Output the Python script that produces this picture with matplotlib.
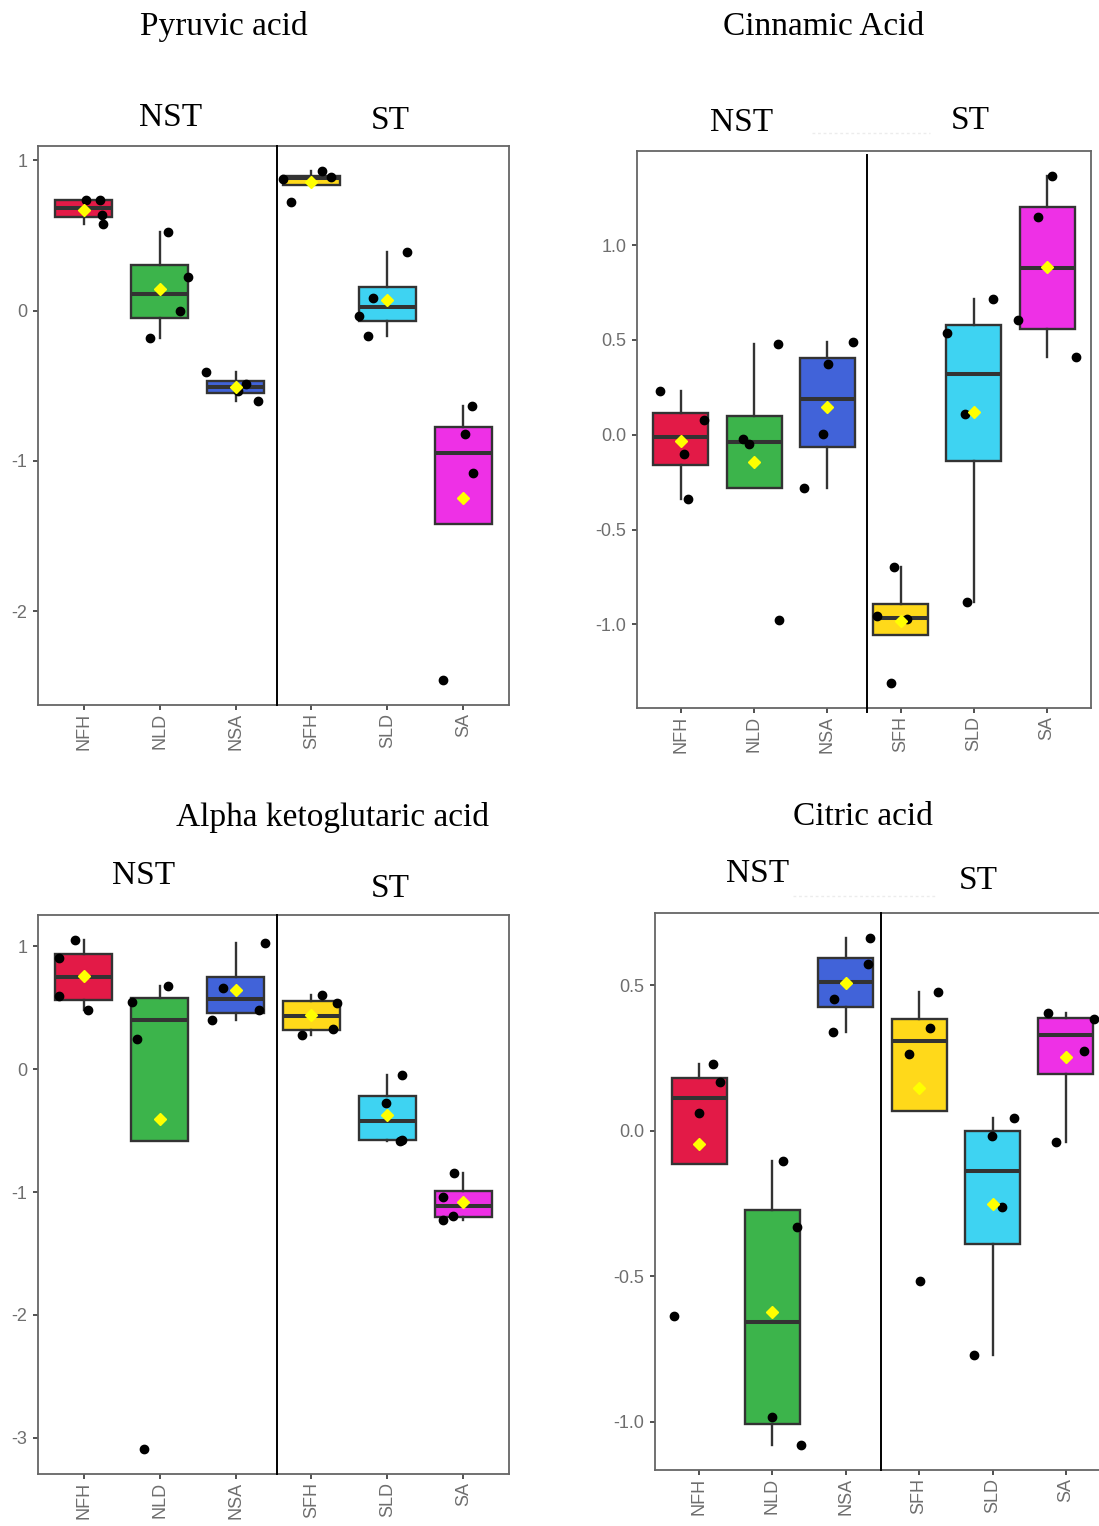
import matplotlib
matplotlib.use("Agg")
import matplotlib.pyplot as plt
from matplotlib.lines import Line2D
from matplotlib.transforms import ScaledTranslation

W, H = 1099, 1526

groups = ["NFH", "NLD", "NSA", "SFH", "SLD", "SA"]
group_colors = ["#E31A47", "#3CB44B", "#4163D9", "#FFD91A", "#3ED3F2", "#EE30E6"]

# Replicate measurements per group (NFH, NLD, NSA, SFH, SLD, SA)
pyruvic = [
    [0.734, 0.737, 0.637, 0.574],
    [0.526, 0.226, 0.000, -0.184],
    [-0.411, -0.489, -0.600, -0.532],
    [0.874, 0.724, 0.926, 0.887],
    [0.387, 0.084, -0.034, -0.168],
    [-0.634, -0.821, -1.079, -2.455],
]
cinnamic = [
    [0.229, 0.075, -0.100, -0.338],
    [-0.025, -0.050, 0.477, -0.977],
    [0.375, 0.490, 0.004, -0.279],
    [-0.698, -0.958, -0.971, -1.308],
    [0.717, 0.535, 0.108, -0.885],
    [1.363, 1.150, 0.606, 0.410],
]
akg = [
    [1.049, 0.903, 0.594, 0.481],
    [0.545, 0.250, 0.675, -3.088],
    [1.029, 0.659, 0.399, 0.481],
    [0.607, 0.539, 0.331, 0.276],
    [-0.045, -0.273, -0.575, -0.587],
    [-0.841, -1.042, -1.192, -1.231],
]
citric = [
    [0.230, 0.167, 0.062, -0.636],
    [-0.103, -0.329, -0.984, -1.079],
    [0.662, 0.573, 0.454, 0.341],
    [0.479, 0.355, 0.264, -0.515],
    [0.044, -0.017, -0.262, -0.769],
    [0.405, 0.383, 0.273, -0.039],
]

# Horizontal jitter of the replicate dots (category units)
pyruvic_jitter = [
    [0.035, 0.22, 0.24, 0.25],
    [0.114, 0.377, 0.263, -0.132],
    [-0.386, 0.14, 0.30, 0.03],
    [-0.377, -0.272, 0.136, 0.254],
    [0.263, -0.193, -0.377, -0.254],
    [0.11, 0.022, 0.13, -0.27],
]
cinnamic_jitter = [
    [-0.28, 0.32, 0.036, 0.10],
    [-0.155, -0.064, 0.327, 0.345],
    [0.01, 0.355, -0.055, -0.32],
    [-0.09, -0.32, 0.09, -0.136],
    [0.26, -0.364, -0.114, -0.10],
    [0.068, -0.123, -0.395, 0.40],
]
akg_jitter = [
    [-0.114, -0.33, -0.33, 0.053],
    [-0.36, -0.30, 0.11, -0.20],
    [0.386, -0.167, -0.307, 0.307],
    [0.14, 0.333, 0.28, -0.13],
    [0.197, -0.022, 0.19, 0.17],
    [-0.118, -0.27, -0.14, -0.27],
]
citric_jitter = [
    [0.186, 0.285, 0.0, -0.34],
    [0.145, 0.33, 0.0, 0.385],
    [0.326, 0.30, -0.163, -0.172],
    [0.254, 0.154, -0.136, 0.01],
    [0.29, -0.014, 0.127, -0.254],
    [-0.25, 0.376, 0.25, -0.136],
]

titles = ["Pyruvic acid", "Cinnamic Acid", "Alpha ketoglutaric acid", "Citric acid"]
pyruvic_yticks = [-2, -1, 0, 1]
cinnamic_yticks = [-1.0, -0.5, 0.0, 0.5, 1.0]
akg_yticks = [-3, -2, -1, 0, 1]
citric_yticks = [-1.0, -0.5, 0.0, 0.5]

panels = [
    dict(title=titles[0], data=pyruvic, jit=pyruvic_jitter, yticks=pyruvic_yticks, fmt="{:.0f}",
         rect=(38, 146, 509, 705), divider=3.55, dspan=(0.0, 1.0),
         tpos=(224, 35), npos=(171, 126), spos=(390, 129)),
    dict(title=titles[1], data=cinnamic, jit=cinnamic_jitter, yticks=cinnamic_yticks, fmt="{:.1f}",
         rect=(637, 151, 1091, 708), divider=3.545, dspan=(-0.008, 0.993),
         tpos=(824, 35), npos=(742, 131), spos=(970, 129), faint=(812, 930, 133)),
    dict(title=titles[2], data=akg, jit=akg_jitter, yticks=akg_yticks, fmt="{:.0f}",
         rect=(38, 915, 509, 1474), divider=3.55, dspan=(0.0, 1.0),
         tpos=(332, 826), npos=(144, 884), spos=(390, 897)),
    dict(title=titles[3], data=citric, jit=citric_jitter, yticks=citric_yticks, fmt="{:.1f}",
         rect=(655, 913, 1110, 1470), divider=3.48, dspan=(0.0, 1.0),
         tpos=(863, 825), npos=(758, 882), spos=(978, 889), faint=(793, 937, 896)),
]

fig = plt.figure(figsize=(W / 100, H / 100), dpi=100)
fig.patch.set_facecolor("white")

serif = ["Liberation Serif", "DejaVu Serif"]
sans = ["Liberation Sans", "DejaVu Sans"]
edge = "#333333"
tick_grey = "#6e6e6e"
xlabel_shift = ScaledTranslation(5 / 100, 0, fig.dpi_scale_trans)

for p in panels:
    l, t, r, b = p["rect"]
    ax = fig.add_axes([l / W, 1 - b / H, (r - l) / W, (b - t) / H])
    pos = list(range(1, len(groups) + 1))
    bp = ax.boxplot(
        p["data"], positions=pos, widths=0.75, patch_artist=True,
        showfliers=False, showcaps=False, whis=1.5, showmeans=True,
        boxprops=dict(edgecolor=edge, linewidth=1.7),
        whiskerprops=dict(color=edge, linewidth=1.7),
        medianprops=dict(color=edge, linewidth=2.9, solid_capstyle="butt"),
        meanprops=dict(marker="D", markerfacecolor="#FFFF00", markeredgecolor="#FFFF00",
                       markersize=6.2, zorder=5),
    )
    for patch, c in zip(bp["boxes"], group_colors):
        patch.set_facecolor(c)
    for i, (vals, jit) in enumerate(zip(p["data"], p["jit"])):
        xs = [pos[i] + j for j in jit]
        ax.plot(xs, vals, "o", color="black", markersize=6, zorder=4, linestyle="none")

    allv = [v for g in p["data"] for v in g]
    lo, hi = min(allv), max(allv)
    pad = 0.05 * (hi - lo)
    ax.set_ylim(lo - pad, hi + pad)
    ax.set_xlim(0.4, 6.6)

    ax.axvline(p["divider"], ymin=p["dspan"][0], ymax=p["dspan"][1],
               color="black", linewidth=1.4, clip_on=False, zorder=3)

    ax.set_xticks(pos)
    ax.set_xticklabels(groups, rotation=90, fontfamily=sans, fontsize=13, color=tick_grey)
    for lab in ax.get_xticklabels():
        lab.set_transform(lab.get_transform() + xlabel_shift)
    ax.set_yticks(p["yticks"])
    ax.set_yticklabels([p["fmt"].format(v) for v in p["yticks"]],
                       fontfamily=sans, fontsize=13, color=tick_grey)
    ax.tick_params(axis="both", length=3.5, width=1.2, color=edge, pad=2.5)
    ax.tick_params(axis="y", pad=4)
    for s in ax.spines.values():
        s.set_color("#666666")
        s.set_linewidth(1.3)

    for key, txt in (("tpos", p["title"]), ("npos", "NST"), ("spos", "ST")):
        x, y = p[key]
        fig.text(x / W, 1 - y / H, txt, ha="center", va="baseline",
                 fontfamily=serif, fontsize=24, color="black")

    if "faint" in p:
        x0, x1, y = p["faint"]
        fig.add_artist(Line2D([x0 / W, x1 / W], [1 - y / H, 1 - y / H],
                              color="#ececec", linewidth=1.0, linestyle=(0, (2, 2))))

fig.savefig("out.png", dpi=100, facecolor="white")
